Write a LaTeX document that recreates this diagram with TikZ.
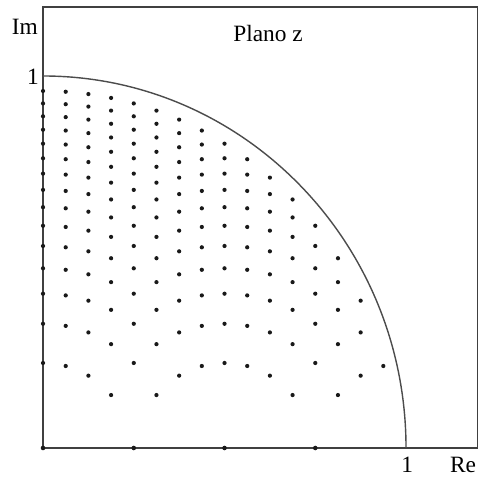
\documentclass[tikz,border=0pt]{standalone}
\usepackage{fontspec}
\setmainfont{Liberation Serif}

\begin{document}
\begin{tikzpicture}[x=7.26cm, y=7.44cm,
  font=\fontsize{13.3}{15}\selectfont,
  frame/.style={draw=black!75, line width=0.6pt},
  rim/.style={draw=black!70, line width=0.8pt},
  pole/.style={fill=black!90},
  lab/.style={inner sep=0pt}]
\useasboundingbox (-0.1185,-0.078) rectangle (1.1983,1.2043);
% plane frame and unit circle
\coordinate (O) at (0,0);
\coordinate (TR) at (1.1956,1.1855);
\draw[frame] (O) rectangle (TR);
\draw[rim] (1,0) arc[start angle=0, end angle=90, x radius=1, y radius=1];
\node[lab] (im) at (-0.05,1.132) {Im};
\node[lab] (one y) at (-0.0275,0.997) {1};
\node[lab] (plane) at (0.62,1.115) {Plano z};
\node[lab] (one x) at (1.003,-0.046) {1};
\node[lab] (re) at (1.157,-0.046) {Re};
% pole grid: b2 = m/16, Re = k/16
\foreach \m in {1,...,15}
  \foreach \k in {0,...,15} {
    \pgfmathtruncatemacro\d{16*\m-\k*\k}
    \ifnum\d>0
      \fill[pole] ({\k/16},{1.018*sqrt(\d)/16-0.026}) circle[radius=1.2pt];
    \fi
  }
% real poles
\foreach \r in {0,0.25,0.5,0.75}
  \fill[pole] (\r,0) circle[radius=1.3pt];
\end{tikzpicture}
\end{document}
